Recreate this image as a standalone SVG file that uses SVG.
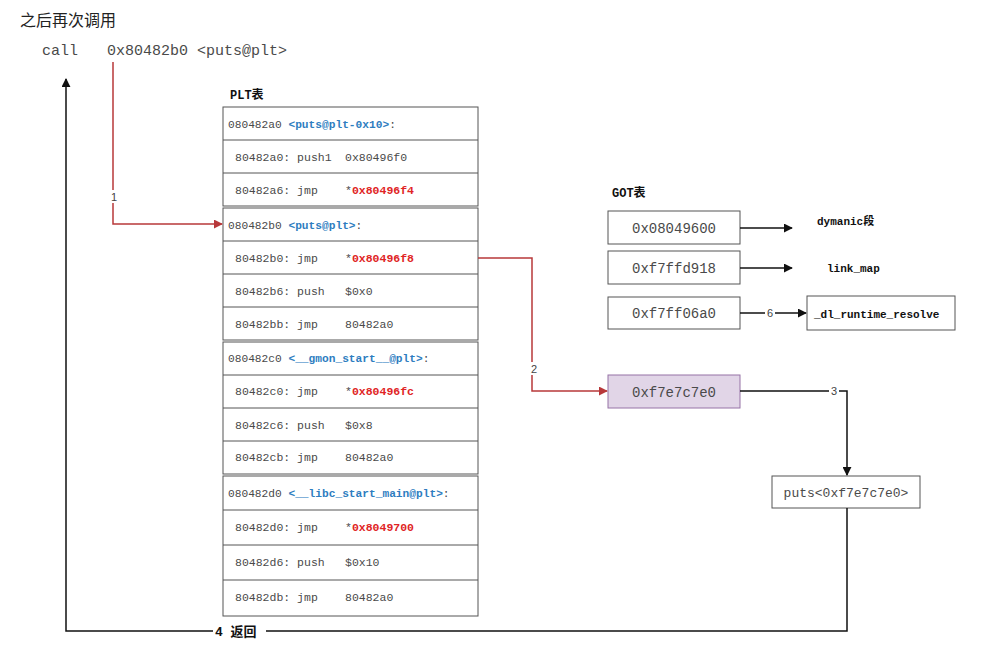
<svg xmlns="http://www.w3.org/2000/svg" width="995" height="652" viewBox="0 0 995 652">
<defs>
<style>
.t{font-family:"Liberation Mono","Noto Sans CJK SC",monospace;fill:#4a4a4a}
.p{font-size:11.5px}
.h{font-size:11.2px}
.b{font-weight:bold;fill:#2e7dbf}
.r{font-weight:bold;fill:#e02424}
.lbl{font-family:"Liberation Mono","Noto Sans CJK SC",monospace;font-weight:bold;fill:#111;font-size:11px}
.box{fill:#fff;stroke:#555;stroke-width:1}
.row{fill:none;stroke:#555;stroke-width:1}
.g{font-size:14px;text-anchor:middle}
.red{fill:none;stroke:#b8383a;stroke-width:1.5}
.blk{fill:none;stroke:#111;stroke-width:1.5}
.n{font-family:"Liberation Sans",sans-serif;font-size:11px;fill:#444;text-anchor:middle}
</style>
<marker id="ar" viewBox="0 0 10 10" refX="9" refY="5" markerWidth="9" markerHeight="9" orient="auto" markerUnits="userSpaceOnUse"><path d="M0,0 L10,5 L0,10 z" fill="#b8383a"/></marker>
<marker id="ab" viewBox="0 0 10 10" refX="9" refY="5" markerWidth="9" markerHeight="9" orient="auto" markerUnits="userSpaceOnUse"><path d="M0,0 L10,5 L0,10 z" fill="#111"/></marker>
</defs>
<rect width="995" height="652" fill="#fff"/>

<text x="20" y="26" style="font-family:'Noto Sans CJK SC',sans-serif;font-size:16px;fill:#222">之后再次调用</text>
<g id="call">
<text x="42" y="55" class="t" style="font-size:15px">call</text>
<text x="107" y="55" class="t" style="font-size:15px">0x80482b0 &lt;puts@plt&gt;</text>
</g>

<text x="230" y="99" class="lbl" style="font-size:12px">PLT表</text>
<text x="612" y="197" class="lbl" style="font-size:12px">GOT表</text>

<g id="plt1">
<rect x="223" y="107" width="255" height="99" class="box"/>
<path d="M223,140H478M223,173H478" class="row"/>
<text x="228" y="128" class="t h">080482a0 <tspan class="b">&lt;puts@plt-0x10&gt;</tspan>:</text>
<text x="235" y="161" class="t p">80482a0: push1</text><text x="345" y="161" class="t p">0x80496f0</text>
<text x="235" y="194" class="t p">80482a6: jmp</text><text x="345" y="194" class="t p">*<tspan class="r">0x80496f4</tspan></text>
</g>

<g id="plt2">
<rect x="223" y="208" width="255" height="132" class="box"/>
<path d="M223,241H478M223,274H478M223,307H478" class="row"/>
<text x="228" y="229" class="t h">080482b0 <tspan class="b">&lt;puts@plt&gt;</tspan>:</text>
<text x="235" y="262" class="t p">80482b0: jmp</text><text x="345" y="262" class="t p">*<tspan class="r">0x80496f8</tspan></text>
<text x="235" y="295" class="t p">80482b6: push</text><text x="345" y="295" class="t p">$0x0</text>
<text x="235" y="328" class="t p">80482bb: jmp</text><text x="345" y="328" class="t p">80482a0</text>
</g>

<g id="plt3">
<rect x="223" y="342" width="255" height="132" class="box"/>
<path d="M223,375H478M223,408H478M223,441H478" class="row"/>
<text x="228" y="362" class="t h">080482c0 <tspan class="b">&lt;__gmon_start__@plt&gt;</tspan>:</text>
<text x="235" y="395" class="t p">80482c0: jmp</text><text x="345" y="395" class="t p">*<tspan class="r">0x80496fc</tspan></text>
<text x="235" y="429" class="t p">80482c6: push</text><text x="345" y="429" class="t p">$0x8</text>
<text x="235" y="461" class="t p">80482cb: jmp</text><text x="345" y="461" class="t p">80482a0</text>
</g>

<g id="plt4">
<rect x="223" y="476" width="255" height="140" class="box"/>
<path d="M223,510H478M223,545H478M223,580H478" class="row"/>
<text x="228" y="497" class="t h">080482d0 <tspan class="b">&lt;__libc_start_main@plt&gt;</tspan>:</text>
<text x="235" y="531" class="t p">80482d0: jmp</text><text x="345" y="531" class="t p">*<tspan class="r">0x8049700</tspan></text>
<text x="235" y="566" class="t p">80482d6: push</text><text x="345" y="566" class="t p">$0x10</text>
<text x="235" y="601" class="t p">80482db: jmp</text><text x="345" y="601" class="t p">80482a0</text>
</g>

<g id="got0"><rect x="608" y="211" width="132" height="33" class="box"/><text x="674" y="233" class="t g">0x08049600</text></g>
<g id="got1"><rect x="608" y="251" width="132" height="33" class="box"/><text x="674" y="273" class="t g">0xf7ffd918</text></g>
<g id="got2"><rect x="608" y="297" width="132" height="32" class="box"/><text x="674" y="318" class="t g">0xf7ff06a0</text></g>
<g id="dynamic"><text x="817" y="225" class="lbl">dymanic段</text></g>
<g id="linkmap"><text x="827" y="272" class="lbl">link_map</text></g>
<g id="resolve"><rect x="807" y="296" width="148" height="34" class="box"/><text x="814" y="318" class="lbl">_dl_runtime_resolve</text></g>
<g id="gotputs"><rect x="608" y="375" width="132" height="33" fill="#e1d5e7" stroke="#9673a6" stroke-width="1"/><text x="674" y="397" class="t g">0xf7e7c7e0</text></g>
<g id="puts"><rect x="772" y="476" width="148" height="32" class="box"/><text x="846" y="497" class="t" style="font-size:13px;text-anchor:middle">puts&lt;0xf7e7c7e0&gt;</text></g>

<g id="connectors">
<path d="M113,62V224H222" class="red" marker-end="url(#ar)"/>
<rect x="108" y="190" width="10" height="13" fill="#fff"/>
<text x="114" y="201" class="n">1</text>
<path d="M478,258H532V391H607" class="red" marker-end="url(#ar)"/>
<rect x="527" y="362" width="11" height="13" fill="#fff"/>
<text x="534" y="373" class="n">2</text>
<path d="M740,228H792" class="blk" marker-end="url(#ab)"/>
<path d="M740,268H792" class="blk" marker-end="url(#ab)"/>
<path d="M740,313H806" class="blk" marker-end="url(#ab)"/>
<rect x="765" y="307" width="10" height="12" fill="#fff"/>
<text x="770" y="317" class="n">6</text>
<path d="M740,391H847V475" class="blk" marker-end="url(#ab)"/>
<rect x="829" y="385" width="10" height="12" fill="#fff"/>
<text x="834" y="395" class="n">3</text>
<path d="M847,508V631H66V79" class="blk" marker-end="url(#ab)"/>
<rect x="213" y="622" width="53" height="17" fill="#fff"/>
<text x="215" y="636" class="lbl" style="font-size:13px">4 返回</text>
</g>
</svg>
